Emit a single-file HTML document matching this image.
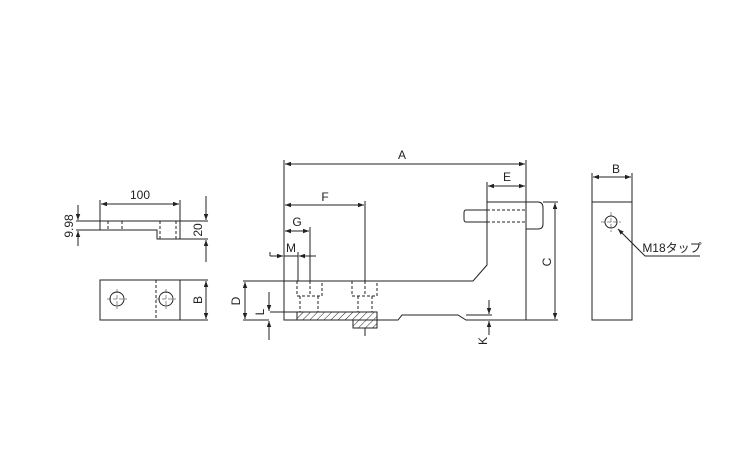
<!DOCTYPE html>
<html><head><meta charset="utf-8"><style>html,body{margin:0;padding:0;background:#fff}svg{display:block}</style></head><body>
<svg width="750" height="450" viewBox="0 0 750 450" xmlns="http://www.w3.org/2000/svg" font-family="Liberation Sans, sans-serif" font-size="11">
<defs>
<marker id="a" viewBox="0 0 8 6" refX="8" refY="3" markerWidth="6" markerHeight="4.5" orient="auto-start-reverse"><path d="M0,0L8,3L0,6z" fill="#222"/></marker>
<pattern id="h" width="5" height="5" patternUnits="userSpaceOnUse" patternTransform="rotate(45)"><line x1="0" y1="0" x2="0" y2="5" stroke="#222" stroke-width="1"/></pattern>
</defs>
<g stroke="#222" stroke-width="1" fill="none">
<!-- main side view -->
<path d="M243,281H473L487,265V202H526V320H466L458,315H402L398,320H284V281"/>
<path d="M270,312H297"/>
<rect x="297" y="312" width="80" height="8" fill="url(#h)"/>
<rect x="353" y="320" width="24" height="8" fill="url(#h)"/>
<path d="M284,320H297"/>
<g stroke-dasharray="3,2">
<path d="M297,281V296H322V281M300,296V312M318,296V312M310,281V296"/>
<path d="M352,281V296H377V281M358,296V312M372,296V312M365,281V296"/>
<path d="M487,210H526M487,222H526"/>
</g>
<!-- bolt -->
<path d="M487,210H466Q464,210 464,213V219Q464,222 466,222H487"/>
<path d="M526,202H538Q543,202 543,208V224Q543,229 538,229H526"/>
<!-- dimensions -->
<path d="M284,160V281M526,160V202M487,182V202M365,201V281M310,227V281M298,252V281M270,252V256"/>
<path d="M285,164H525" marker-start="url(#a)" marker-end="url(#a)"/>
<path d="M488,186H525" marker-start="url(#a)" marker-end="url(#a)"/>
<path d="M285,205H364" marker-start="url(#a)" marker-end="url(#a)"/>
<path d="M285,231H309" marker-start="url(#a)" marker-end="url(#a)"/>
<path d="M270,256H283" marker-end="url(#a)"/><path d="M316,256H299" marker-end="url(#a)"/><path d="M284,256H298"/>
<path d="M245,282V319" marker-start="url(#a)" marker-end="url(#a)"/>
<path d="M269,292V311" marker-end="url(#a)"/><path d="M269,340V321" marker-end="url(#a)"/><path d="M243,320H269"/>
<path d="M489,300V314" marker-end="url(#a)"/><path d="M489,335V321" marker-end="url(#a)"/><path d="M466,315H492"/>
<path d="M543,202H558M526,320H558"/>
<path d="M555,203V319" marker-start="url(#a)" marker-end="url(#a)"/>
<path d="M365,328V336"/>
<!-- top-left view -->
<path d="M100,221H180V239H157V230H100Z"/>
<g stroke-dasharray="3,2"><path d="M108,221V230M122,221V230M160,221V239M176,221V239"/></g>
<path d="M100,200V221M180,200V221"/>
<path d="M101,204H179" marker-start="url(#a)" marker-end="url(#a)"/>
<path d="M76,221H100M76,230H100"/>
<path d="M78,205V220" marker-end="url(#a)"/><path d="M78,246V231" marker-end="url(#a)"/>
<path d="M180,221H208M180,239H208"/>
<path d="M206,196V220" marker-end="url(#a)"/><path d="M206,262V240" marker-end="url(#a)"/>
<!-- bottom-left view -->
<rect x="100" y="280" width="80" height="40"/>
<path d="M156,280V320" stroke-dasharray="3,2"/>
<circle cx="117" cy="299" r="7"/><circle cx="166" cy="299" r="7"/>
<path d="M117,289V309M107,299H127M166,289V309M156,299H176" stroke-width="0.5" stroke-dasharray="4,2"/>
<path d="M180,280H208M180,320H208"/>
<path d="M206,281V319" marker-start="url(#a)" marker-end="url(#a)"/>
<!-- right view -->
<path d="M592,173V320H632V173M592,202H632"/>
<path d="M593,177H631" marker-start="url(#a)" marker-end="url(#a)"/>
<circle cx="611" cy="222" r="6"/>
<path d="M611,212V232M601,222H621" stroke-width="0.5" stroke-dasharray="4,2"/>
<path d="M700,256H645L618,229" marker-end="url(#a)"/>
</g>
<g fill="#222" text-anchor="middle">
<text x="402" y="159" font-size="12">A</text>
<text x="507" y="181" font-size="12">E</text>
<text x="325" y="201" font-size="12">F</text>
<text x="297" y="226" font-size="12">G</text>
<text x="291" y="252" font-size="12">M</text>
<text x="140" y="199" font-size="12">100</text>
<text x="616" y="173" font-size="12">B</text>
<text x="672" y="252" font-size="12">M18タップ</text>
<text transform="translate(240,301) rotate(-90)" font-size="12">D</text>
<text transform="translate(264,312) rotate(-90)" font-size="12">L</text>
<text transform="translate(487,341) rotate(-90)" font-size="12">K</text>
<text transform="translate(551,262) rotate(-90)" font-size="12">C</text>
<text transform="translate(73,226) rotate(-90)" font-size="12">9.98</text>
<text transform="translate(202,230) rotate(-90)" font-size="12">20</text>
<text transform="translate(202,300) rotate(-90)" font-size="12">B</text>
</g>
</svg>
</body></html>
